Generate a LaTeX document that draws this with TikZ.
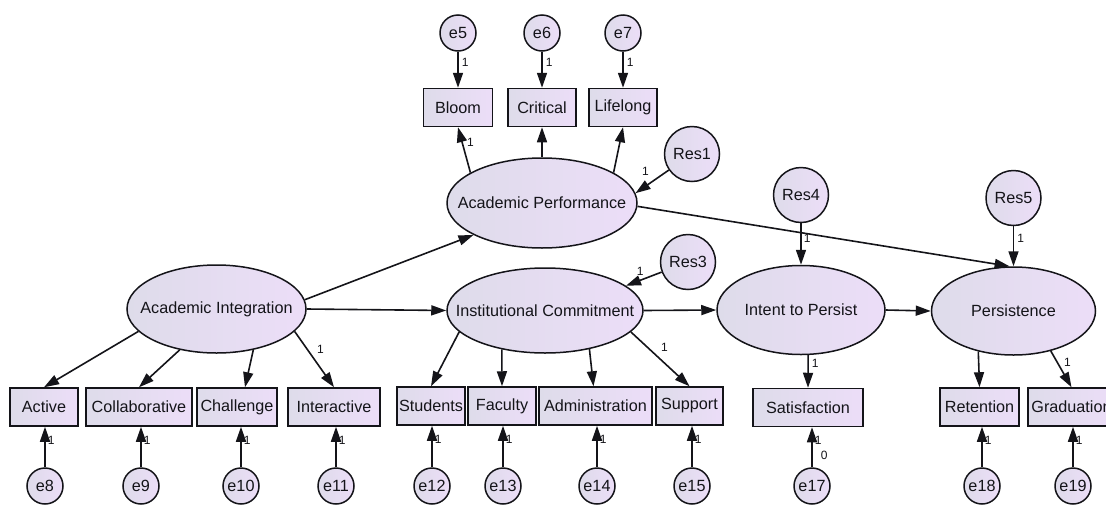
\documentclass[tikz,border=0pt]{standalone}
\usepackage{fontspec}
\setmainfont{Liberation Sans}
\usetikzlibrary{arrows.meta,shapes.geometric}
\definecolor{fillL}{RGB}{222,220,234}
\definecolor{fillR}{RGB}{236,221,248}
\definecolor{ink}{RGB}{20,20,25}

\begin{document}
\begin{tikzpicture}[x=1pt,y=-1pt,
  every node/.style={text=ink},
  base/.style={draw=ink, line width=1.5pt, left color=fillL, right color=fillR},
  bigfont/.style={font=\fontsize{16.2}{19}\selectfont},
  latent/.style={base, ellipse, inner sep=0pt},
  ltext/.style={bigfont, inner sep=0pt},
  obs/.style={base, rectangle, bigfont, minimum height=38pt, inner xsep=2pt, inner ysep=0pt},
  err/.style={base, circle, bigfont, inner sep=0pt, minimum size=36pt},
  res/.style={err, minimum size=55pt},
  link/.style={draw=ink, line width=1.6pt, -{Triangle[length=15pt,width=10pt]}},
  lab/.style={font=\fontsize{12}{14}\selectfont, inner sep=1pt}
]
\useasboundingbox (0,0) rectangle (1106,504);
\clip (0,0) rectangle (1106,504);

% ---- latent variables ----
\node[latent, minimum width=190pt, minimum height=90pt] (AP) at (542,203) {};
\node[ltext] (APt) at (AP) {Academic Performance};
\node[latent, minimum width=179pt, minimum height=88pt] (AI) at (216.5,309) {};
\node[ltext] (AIt) at (AI) {Academic Integration};
\node[latent, minimum width=196pt, minimum height=85pt] (IC) at (545,310.5) {};
\node[ltext] (ICt) at (IC) {Institutional Commitment};
\node[latent, minimum width=168pt, minimum height=89pt] (IP) at (801,310) {};
\node[ltext] (IPt) at (IP) {Intent to Persist};
\node[latent, minimum width=164pt, minimum height=88pt] (PE) at (1013.5,311) {};
\node[ltext] (PEt) at (PE) {Persistence};

% ---- residuals of the latent variables ----
\node[res] (Res1) at (692,154) {Res1};
\node[res] (Res3) at (688,262) {Res3};
\node[res] (Res4) at (801,195) {Res4};
\node[res] (Res5) at (1013.5,198) {Res5};

% ---- indicators of Academic Performance ----
\node[obs, minimum width=69pt] (Bloom) at (458,107.5) {Bloom};
\node[obs, minimum width=68pt] (Critical) at (542,107.5) {Critical};
\node[obs, minimum width=68pt] (Lifelong) at (623,107.5) {Lifelong};
\node[err] (e5) at (458,33) {e5};
\node[err] (e6) at (542,33) {e6};
\node[err] (e7) at (623,33) {e7};

% ---- bottom row of indicators ----
\node[obs, minimum width=68pt] (Active) at (44,407) {Active};
\node[obs, minimum width=106pt] (Collab) at (139,407) {Collaborative};
\node[obs, minimum width=80pt] (Challenge) at (237,407) {Challenge};
\node[obs, minimum width=92pt] (Interactive) at (334,407) {Interactive};
\node[obs, minimum width=68pt] (Students) at (431,406) {Students};
\node[obs, minimum width=68pt] (Faculty) at (502,406) {Faculty};
\node[obs, minimum width=113pt] (Admin) at (595.5,406) {Administration};
\node[obs, minimum width=67pt] (Support) at (689.5,406) {Support};
\node[obs, minimum width=110pt] (Sat) at (808,407.5) {Satisfaction};
\node[obs, minimum width=79pt] (Ret) at (979.5,407) {Retention};
\node[obs, minimum width=87pt] (Grad) at (1071.5,407) {Graduation};

% ---- measurement errors, bottom row ----
\node[err] (e8) at (45,486) {e8};
\node[err] (e9) at (141,486) {e9};
\node[err] (e10) at (241,486) {e10};
\node[err] (e11) at (336,486) {e11};
\node[err] (e12) at (432,486) {e12};
\node[err] (e13) at (503,486) {e13};
\node[err] (e14) at (597,486) {e14};
\node[err] (e15) at (692,486) {e15};
\node[err] (e17) at (812,486) {e17};
\node[err] (e18) at (982,486) {e18};
\node[err] (e19) at (1073,486) {e19};

% ---- structural paths ----
\draw[link] (AI.6) -- (AP.205);
\draw[link] (AI.east) -- (IC.west);
\draw[link] (IC.east) -- (IP.west);
\draw[link] (IP.east) -- (PE.west);
\draw[link] (AP.358) -- (PE.95);

% ---- residual paths ----
\draw[link] (Res1) -- (AP.6) node[lab, pos=0.7, anchor=south, yshift=9pt] {1};
\draw[link] (Res3) -- (IC.17) node[lab, pos=0.6, anchor=south, yshift=3pt] {1};
\draw[link] (Res4) -- (IP.north) node[lab, pos=0.36, anchor=west, xshift=1pt] {1};
\draw[link] (Res5) -- (PE.north) node[lab, pos=0.3, anchor=west, xshift=2pt] {1};

% ---- loadings ----
\draw[link] (AP.157) -- (Bloom.south) node[lab, pos=0.66, anchor=west, xshift=3pt] {1};
\draw[link] (AP.north) -- (Critical.south);
\draw[link] (AP.23) -- (Lifelong.south);

\draw[link] (AI.196) -- (Active.north);
\draw[link] (AI.228) -- (Collab.north);
\draw[link] (AI.312) -- ([xshift=8pt]Challenge.north);
\draw[link] (AI.344) -- (Interactive.north) node[lab, pos=0.32, anchor=west, xshift=8pt] {1};

\draw[link] (IC.194) -- (Students.north);
\draw[link] (IC.222) -- (Faculty.north);
\draw[link] (IC.319) -- ([xshift=-2pt]Admin.north);
\draw[link] (IC.346) -- (Support.north) node[lab, pos=0.28, anchor=west, xshift=12pt] {1};

\draw[link] (IP.279) -- (Sat.north) node[lab, pos=0.24, anchor=west, xshift=2pt] {1};

\draw[link] (PE.229) -- (Ret.north);
\draw[link] (PE.313) -- (Grad.north) node[lab, pos=0.32, anchor=west, xshift=5pt] {1};

% ---- error paths, top ----
\draw[link] (e5) -- (e5 |- Bloom.north) node[lab, pos=0.3, anchor=west, xshift=2pt] {1};
\draw[link] (e6) -- (e6 |- Critical.north) node[lab, pos=0.3, anchor=west, xshift=2pt] {1};
\draw[link] (e7) -- (e7 |- Lifelong.north) node[lab, pos=0.3, anchor=west, xshift=2pt] {1};

% ---- error paths, bottom ----
\draw[link] (e8) -- (e8 |- Active.south) node[lab, pos=0.67, anchor=west, xshift=1pt] {1};
\draw[link] (e9) -- (e9 |- Collab.south) node[lab, pos=0.67, anchor=west, xshift=1pt] {1};
\draw[link] (e10) -- (e10 |- Challenge.south) node[lab, pos=0.67, anchor=west, xshift=1pt] {1};
\draw[link] (e11) -- (e11 |- Interactive.south) node[lab, pos=0.67, anchor=west, xshift=1pt] {1};
\draw[link] (e12) -- (e12 |- Students.south) node[lab, pos=0.67, anchor=west, xshift=1pt] {1};
\draw[link] (e13) -- (e13 |- Faculty.south) node[lab, pos=0.67, anchor=west, xshift=1pt] {1};
\draw[link] (e14) -- (e14 |- Admin.south) node[lab, pos=0.67, anchor=west, xshift=1pt] {1};
\draw[link] (e15) -- (e15 |- Support.south) node[lab, pos=0.67, anchor=west, xshift=1pt] {1};
\draw[link] (e17) -- (e17 |- Sat.south)
  node[lab, pos=0.67, anchor=west, xshift=1pt] {1}
  node[lab, pos=0.3, anchor=west, xshift=7pt] {0};
\draw[link] (e18) -- (e18 |- Ret.south) node[lab, pos=0.67, anchor=west, xshift=1pt] {1};
\draw[link] (e19) -- (e19 |- Grad.south) node[lab, pos=0.67, anchor=west, xshift=1pt] {1};
\end{tikzpicture}
\end{document}
